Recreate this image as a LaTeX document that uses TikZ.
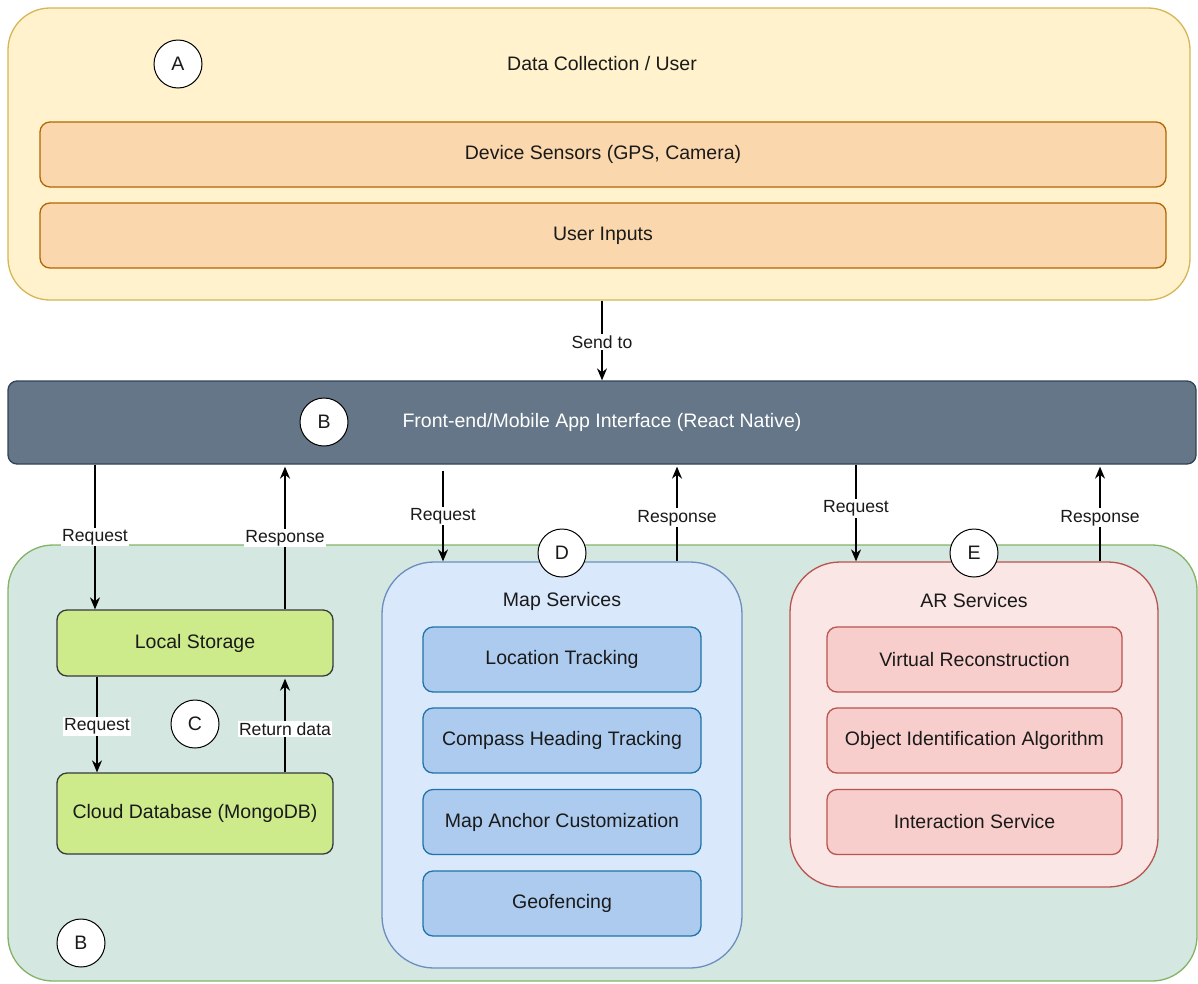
\documentclass[tikz,border=0pt]{standalone}
\usepackage{fontspec}
\setmainfont{Liberation Sans}
\usetikzlibrary{arrows.meta,calc}
\definecolor{aFill}{HTML}{FFF2CC}
\definecolor{aLine}{HTML}{D6B656}
\definecolor{oFill}{HTML}{FAD7AC}
\definecolor{oLine}{HTML}{B46504}
\definecolor{barFill}{HTML}{647687}
\definecolor{barLine}{HTML}{314354}
\definecolor{gFill}{HTML}{D5E7E1}
\definecolor{gLine}{HTML}{82B366}
\definecolor{lFill}{HTML}{CDEB8B}
\definecolor{lLine}{HTML}{36393D}
\definecolor{mFill}{HTML}{DAE8FC}
\definecolor{mLine}{HTML}{6C8EBF}
\definecolor{miFill}{HTML}{ACCBEF}
\definecolor{miLine}{HTML}{1F73A8}
\definecolor{rFill}{HTML}{FAE6E4}
\definecolor{rLine}{HTML}{B85450}
\definecolor{riFill}{HTML}{F8CECC}
\definecolor{txt}{HTML}{1A1A1A}
\tikzset{
  big/.style={font=\fontsize{19.5}{23}\selectfont, text=txt},
  boxbase/.style={draw, line width=1.3pt, inner sep=0pt, big},
  circ/.style={circle, draw=black, fill=white, line width=1pt, minimum size=48pt, inner sep=0pt, big},
  arr/.style={draw=black, line width=1.4pt, -{Stealth[length=12pt,width=10pt]}},
  lbl/.style={fill=white, inner sep=1.5pt, text=txt, font=\fontsize{17.6}{20}\selectfont},
  ttl/.style={big}
}
\begin{document}
\begin{tikzpicture}[x=1pt,y=-1pt]
\useasboundingbox (0,0) rectangle (1198,983);

% A: Data collection
\node[boxbase, draw=aLine, fill=aFill, rounded corners=42pt, minimum width=1182pt, minimum height=292pt] (topbox) at (599,154) {};
\node[ttl] (toptitle) at (602,64) {Data Collection / User};
\node[circ] (cA) at (178,64) {A};
\node[boxbase, draw=oLine, fill=oFill, rounded corners=10pt, minimum width=1126pt, minimum height=65pt] (dev) at (603,154.5) {Device Sensors (GPS, Camera)};
\node[boxbase, draw=oLine, fill=oFill, rounded corners=10pt, minimum width=1126pt, minimum height=65pt] (usr) at (603,235.5) {User Inputs};

% B: bar
\node[boxbase, draw=barLine, fill=barFill, rounded corners=9pt, minimum width=1188pt, minimum height=83pt, text=white] (bar) at (602,422.5) {Front-end/Mobile App Interface (React Native)};
\node[circ] (cB) at (324,422) {B};

% green container
\node[boxbase, draw=gLine, fill=gFill, rounded corners=45pt, minimum width=1189pt, minimum height=436pt] (green) at (602.5,763) {};
\node[circ] (cB2) at (81,943) {B};

% C: storage
\node[boxbase, draw=lLine, fill=lFill, rounded corners=10pt, minimum width=276pt, minimum height=66pt] (ls) at (195,643) {Local Storage};
\node[boxbase, draw=lLine, fill=lFill, rounded corners=10pt, minimum width=276pt, minimum height=81pt] (cloud) at (195,813.5) {Cloud Database (MongoDB)};
\node[circ] (cC) at (195,724) {C};

% D: map services
\node[boxbase, draw=mLine, fill=mFill, rounded corners=52pt, minimum width=360pt, minimum height=406pt] (map) at (562,765) {};
\node[ttl] (maptitle) at (562,601) {Map Services};
\node[boxbase, draw=miLine, fill=miFill, rounded corners=10pt, minimum width=278pt, minimum height=65pt] (m1) at (562,659.5) {Location Tracking};
\node[boxbase, draw=miLine, fill=miFill, rounded corners=10pt, minimum width=278pt, minimum height=65pt] (m2) at (562,740.5) {Compass Heading Tracking};
\node[boxbase, draw=miLine, fill=miFill, rounded corners=10pt, minimum width=278pt, minimum height=65pt] (m3) at (562,822) {Map Anchor Customization};
\node[boxbase, draw=miLine, fill=miFill, rounded corners=10pt, minimum width=278pt, minimum height=65pt] (m4) at (562,903.5) {Geofencing};

% E: AR services
\node[boxbase, draw=rLine, fill=rFill, rounded corners=50pt, minimum width=368pt, minimum height=325pt] (ar) at (974,724.5) {};
\node[ttl] (artitle) at (974,601) {AR Services};
\node[boxbase, draw=rLine, fill=riFill, rounded corners=10pt, minimum width=295pt, minimum height=65pt] (r1) at (974.5,659.5) {Virtual Reconstruction};
\node[boxbase, draw=rLine, fill=riFill, rounded corners=10pt, minimum width=295pt, minimum height=65pt] (r2) at (974.5,740.5) {Object Identification Algorithm};
\node[boxbase, draw=rLine, fill=riFill, rounded corners=10pt, minimum width=295pt, minimum height=65pt] (r3) at (974.5,822) {Interaction Service};

% x positions of connectors
\coordinate (xs) at (602,0);
\coordinate (x1) at (95,0);
\coordinate (x2) at (285,0);
\coordinate (x3) at (97,0);
\coordinate (x4) at (443,0);
\coordinate (x5) at (677,0);
\coordinate (x6) at (856,0);
\coordinate (x7) at (1100,0);

% connectors
\draw[arr] (topbox.south -| xs) -- node[lbl, pos=0.52]{Send to} (bar.north -| xs);
\draw[arr] (bar.south -| x1) -- node[lbl, pos=0.5]{Request} (ls.north -| x1);
\draw[arr] (ls.north -| x2) -- node[lbl, pos=0.5]{Response} ($(bar.south -| x2)+(0,2)$);
\draw[arr] (ls.south -| x3) -- node[lbl, pos=0.52]{Request} (cloud.north -| x3);
\draw[arr] (cloud.north -| x2) -- node[lbl, pos=0.46]{Return data} ($(ls.south -| x2)+(0,2)$);
\draw[arr] ($(bar.south -| x4)+(0,6)$) -- node[lbl, pos=0.5]{Request} (map.north -| x4);
\draw[arr] (map.north -| x5) -- node[lbl, pos=0.46]{Response} ($(bar.south -| x5)+(0,2)$);
\draw[arr] (bar.south -| x6) -- node[lbl, pos=0.45]{Request} (ar.north -| x6);
\draw[arr] (ar.north -| x7) -- node[lbl, pos=0.46]{Response} ($(bar.south -| x7)+(0,2)$);

\node[circ] (cD) at (562,553) {D};
\node[circ] (cE) at (974,553) {E};
\end{tikzpicture}
\end{document}
